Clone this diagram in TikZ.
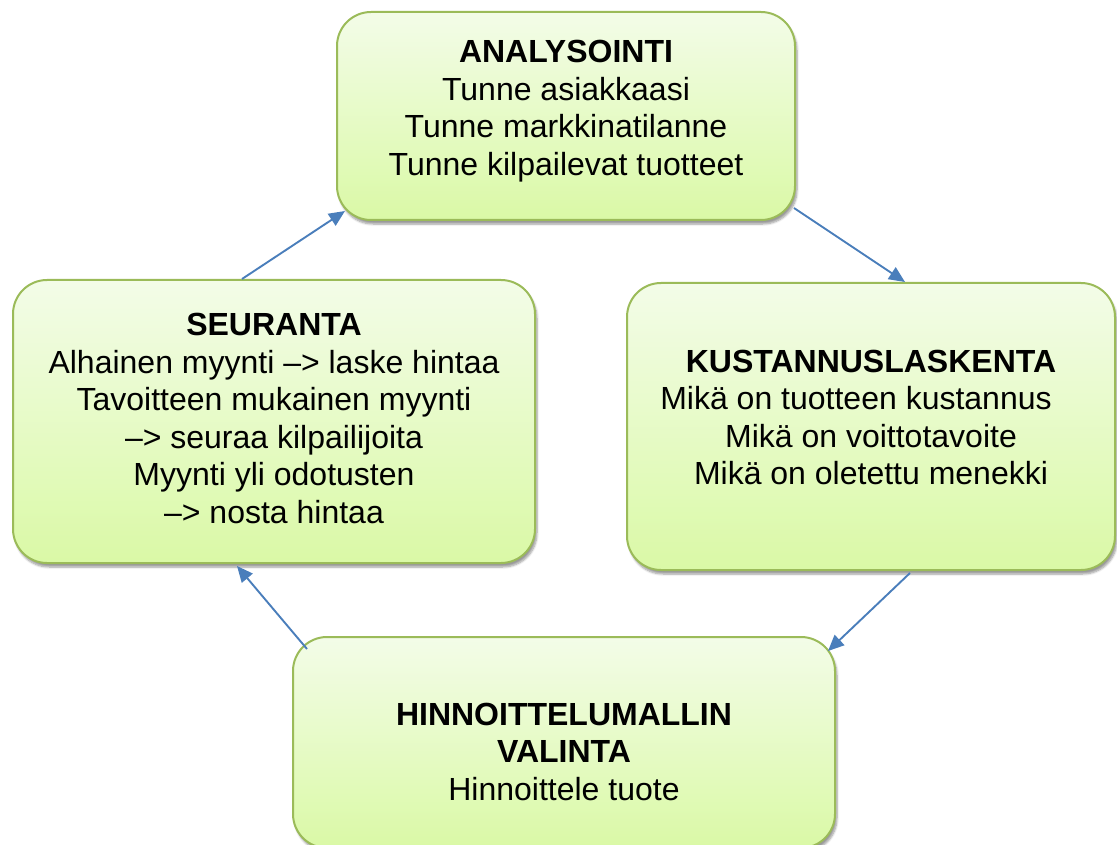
\documentclass[tikz,border=0pt]{standalone}
\usepackage{fontspec}
\setmainfont{Liberation Sans}
\usetikzlibrary{positioning, calc, arrows.meta, shadows.blur}
\definecolor{boxtop}{RGB}{243,252,232}
\definecolor{boxbot}{RGB}{218,249,166}
\definecolor{boxline}{RGB}{155,187,89}
\definecolor{flowc}{RGB}{74,126,187}

\begin{document}
\begin{tikzpicture}[
    x=1pt, y=-1pt,
    stagebox/.style={
        draw=boxline,
        line width=2pt,
        rounded corners=34pt,
        top color=boxtop,
        bottom color=boxbot,
        blur shadow={shadow xshift=2pt, shadow yshift=-4pt, shadow blur steps=6, shadow opacity=40},
        inner sep=0pt
    },
    stagetxt/.style={
        align=center,
        font=\fontsize{32}{37.5}\selectfont,
        inner sep=0pt
    },
    flow/.style={
        -{Triangle[length=16pt, width=14pt]},
        line width=1.9pt,
        flowc
    }
]
\clip (0,0) rectangle (1117,845);

% === Analysointi ===
\node[stagebox, minimum width=458pt, minimum height=208pt] (ana) at (566,116) {};
\node[stagetxt] (anaT) at ($(ana.center)+(0,-5)$) {
\textbf{ANALYSOINTI}\\
Tunne asiakkaasi\\
Tunne markkinatilanne\\
Tunne kilpailevat tuotteet
};

% === Seuranta ===
\node[stagebox, minimum width=522pt, minimum height=283pt] (seu) at (274,421.5) {};
\node[stagetxt] (seuT) at ($(seu.center)+(0,-3)$) {
\textbf{SEURANTA}\\
Alhainen myynti –> laske hintaa\\
Tavoitteen mukainen myynti\\
–> seuraa kilpailijoita\\
Myynti yli odotusten\\
–> nosta hintaa
};

% === Kustannuslaskenta ===
\node[stagebox, minimum width=488pt, minimum height=287pt] (kus) at (871,426.5) {};
\node[stagetxt] (kusT) at ($(kus.center)+(0,-9)$) {
\textbf{KUSTANNUSLASKENTA}\\
Mikä on tuotteen kustannus\rule{30pt}{0pt}\\
Mikä on voittotavoite\\
Mikä on oletettu menekki
};

% === Hinnoittelumallin valinta ===
\node[stagebox, minimum width=542pt, minimum height=211pt] (hin) at (564,742.5) {};
\node[stagetxt] (hinT) at ($(hin.center)+(0,9)$) {
\textbf{HINNOITTELUMALLIN}\\
\textbf{VALINTA}\\
Hinnoittele tuote
};

% === Arrows ===
\draw[flow] ($(seu.north)+(-32,0)$) -- ($(ana.south west)+(9,-10)$);
\draw[flow] ($(ana.south east)+(-2,-13)$) -- ($(kus.north)+(34,0)$);
\draw[flow] ($(kus.south)+(39,2)$) -- ($(hin.north east)+(-8,15)$);
\draw[flow] ($(hin.north west)+(15,13)$) -- ($(seu.south)+(-37,2)$);

\end{tikzpicture}
\end{document}
